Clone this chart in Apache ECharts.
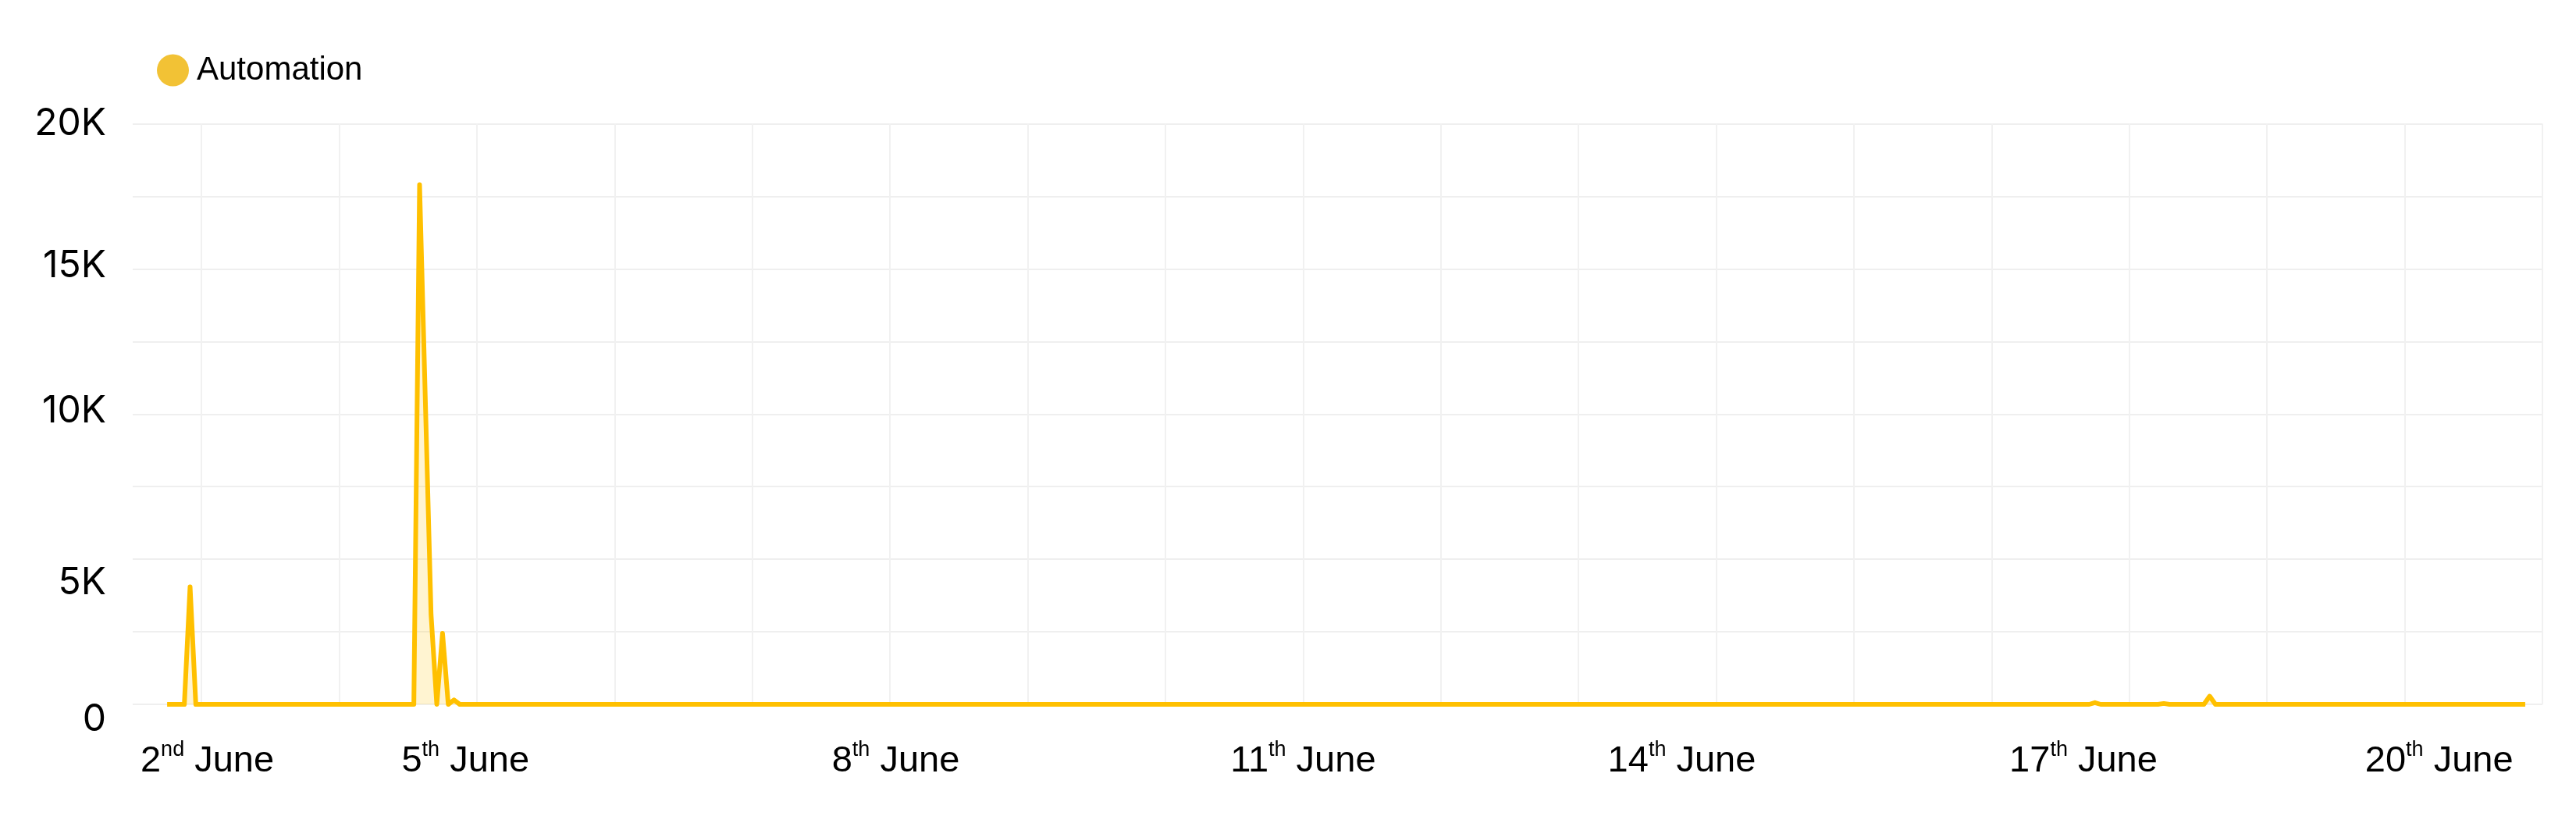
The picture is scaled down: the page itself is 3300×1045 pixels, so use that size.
<!DOCTYPE html>
<html>
<head>
<meta charset="utf-8">
<script src="https://cdn.jsdelivr.net/npm/echarts@6/dist/echarts.min.js"></script>
<style>
html,body{margin:0;padding:0;background:#fff;}
#chart{width:3300px;height:1045px;}
</style>
</head>
<body>
<div id="chart"></div>
<script>
// ---- data ----
const seriesName = 'Automation';
// x axis: sample slots (hourly-ish samples); day labels shown at the samples where they fall
const sampleCount = 421;
const dayLabels = ['2nd June', '5th June', '8th June', '11th June', '14th June', '17th June', '20th June'];
const dayLabelSample = [13, 58, 133, 204, 270, 340, 402];
// y tick labels
const yTickValues = [0, 5000, 10000, 15000, 20000];
const yTickLabels = ['0', '5K', '10K', '15K', '20K'];
// series values (null = no sample)
const automation = [
  null,null,null,null,null,null,0,0,0,0,4050,0,0,0,0,0,0,0,0,0,0,0,0,0,
  0,0,0,0,0,0,0,0,0,0,0,0,0,0,0,0,0,0,0,0,0,0,0,0,
  0,0,17900,10500,3100,0,2450,0,150,0,0,0,0,0,0,0,0,0,0,0,0,0,0,0,
  0,0,0,0,0,0,0,0,0,0,0,0,0,0,0,0,0,0,0,0,0,0,0,0,
  0,0,0,0,0,0,0,0,0,0,0,0,0,0,0,0,0,0,0,0,0,0,0,0,
  0,0,0,0,0,0,0,0,0,0,0,0,0,0,0,0,0,0,0,0,0,0,0,0,
  0,0,0,0,0,0,0,0,0,0,0,0,0,0,0,0,0,0,0,0,0,0,0,0,
  0,0,0,0,0,0,0,0,0,0,0,0,0,0,0,0,0,0,0,0,0,0,0,0,
  0,0,0,0,0,0,0,0,0,0,0,0,0,0,0,0,0,0,0,0,0,0,0,0,
  0,0,0,0,0,0,0,0,0,0,0,0,0,0,0,0,0,0,0,0,0,0,0,0,
  0,0,0,0,0,0,0,0,0,0,0,0,0,0,0,0,0,0,0,0,0,0,0,0,
  0,0,0,0,0,0,0,0,0,0,0,0,0,0,0,0,0,0,0,0,0,0,0,0,
  0,0,0,0,0,0,0,0,0,0,0,0,0,0,0,0,0,0,0,0,0,0,0,0,
  0,0,0,0,0,0,0,0,0,0,0,0,0,0,0,0,0,0,0,0,0,0,0,0,
  0,0,0,0,0,0,60,0,0,0,0,0,0,0,0,0,0,0,30,0,0,0,0,0,
  0,0,280,0,0,0,0,0,0,0,0,0,0,0,0,0,0,0,0,0,0,0,0,0,
  0,0,0,0,0,0,0,0,0,0,0,0,0,0,0,0,0,0,0,0,0,0,0,0,
  0,0,0,0,0,0,0,0,0,0,null,null,null
];

// ---- chart ----
const categories = [];
for (let i = 0; i < sampleCount; i++) categories.push('s' + i);

const yRichKey = {0: 'y0', 5000: 'y5', 10000: 'y10', 15000: 'y15', 20000: 'y20'};
const yBase = {fontFamily: 'Inter', fontSize: 48, color: '#000'};

const chart = echarts.init(document.getElementById('chart'), null, {renderer: 'canvas'});
chart.setOption({
  animation: false,
  backgroundColor: '#fff',
  legend: {
    left: 196, top: 64,
    icon: 'circle',
    itemWidth: 41, itemHeight: 41,
    data: [{name: seriesName, itemStyle: {color: '#F2C235'}}],
    textStyle: {fontFamily: 'Liberation Sans', fontSize: 42, color: '#000', padding: [6, 0, 0, 5]}
  },
  grid: {left: 170, right: 43, top: 158.5, bottom: 143, containLabel: false},
  xAxis: {
    type: 'category',
    data: categories,
    boundaryGap: false,
    axisLine: {show: false},
    axisTick: {show: false},
    splitLine: {
      show: true,
      interval: (idx) => (idx - 12) % 24 === 0,
      lineStyle: {color: '#F1F1F1', width: 2}
    },
    axisLabel: {
      interval: (idx) => dayLabelSample.indexOf(idx) >= 0,
      margin: 45,
      formatter: (val, idx) => {
        const k = dayLabelSample.indexOf(idx);
        if (k < 0) return '';
        const m = dayLabels[k].match(/^(\d+)(st|nd|rd|th) (.*)$/);
        return '{n|' + m[1] + '}{s|' + m[2] + '}{n| ' + m[3] + '}';
      },
      rich: {
        n: {fontFamily: 'Liberation Sans', fontSize: 47, color: '#000', lineHeight: 52, verticalAlign: 'bottom'},
        s: {fontFamily: 'Liberation Sans', fontSize: 27, color: '#000', lineHeight: 27, verticalAlign: 'top'}
      }
    }
  },
  yAxis: {
    type: 'value',
    min: 0, max: 20000, interval: 2500,
    axisLine: {show: false},
    axisTick: {show: false},
    splitLine: {show: true, lineStyle: {color: '#EFEFEF', width: 2}},
    axisLabel: {
      margin: 34,
      formatter: (v) => {
        const k = yTickValues.indexOf(v);
        if (k < 0) return '';
        return '{' + yRichKey[v] + '|' + yTickLabels[k] + '}';
      },
      rich: {
        y0: Object.assign({padding: [39, 0, 0, 0]}, yBase),
        y5: Object.assign({padding: [60, 0, 0, 0]}, yBase),
        y10: Object.assign({padding: [0, 0, 7, 0]}, yBase),
        y15: Object.assign({padding: [0, 0, 8, 0]}, yBase),
        y20: Object.assign({padding: [0, 0, 0, 0]}, yBase)
      }
    }
  },
  series: [{
    name: seriesName,
    type: 'line',
    data: automation,
    showSymbol: false,
    connectNulls: false,
    lineStyle: {color: '#FFC000', width: 6, join: 'round'},
    itemStyle: {color: '#FFC000'},
    areaStyle: {color: 'rgba(255,192,0,0.26)'}
  }]
});
</script>
</body>
</html>
